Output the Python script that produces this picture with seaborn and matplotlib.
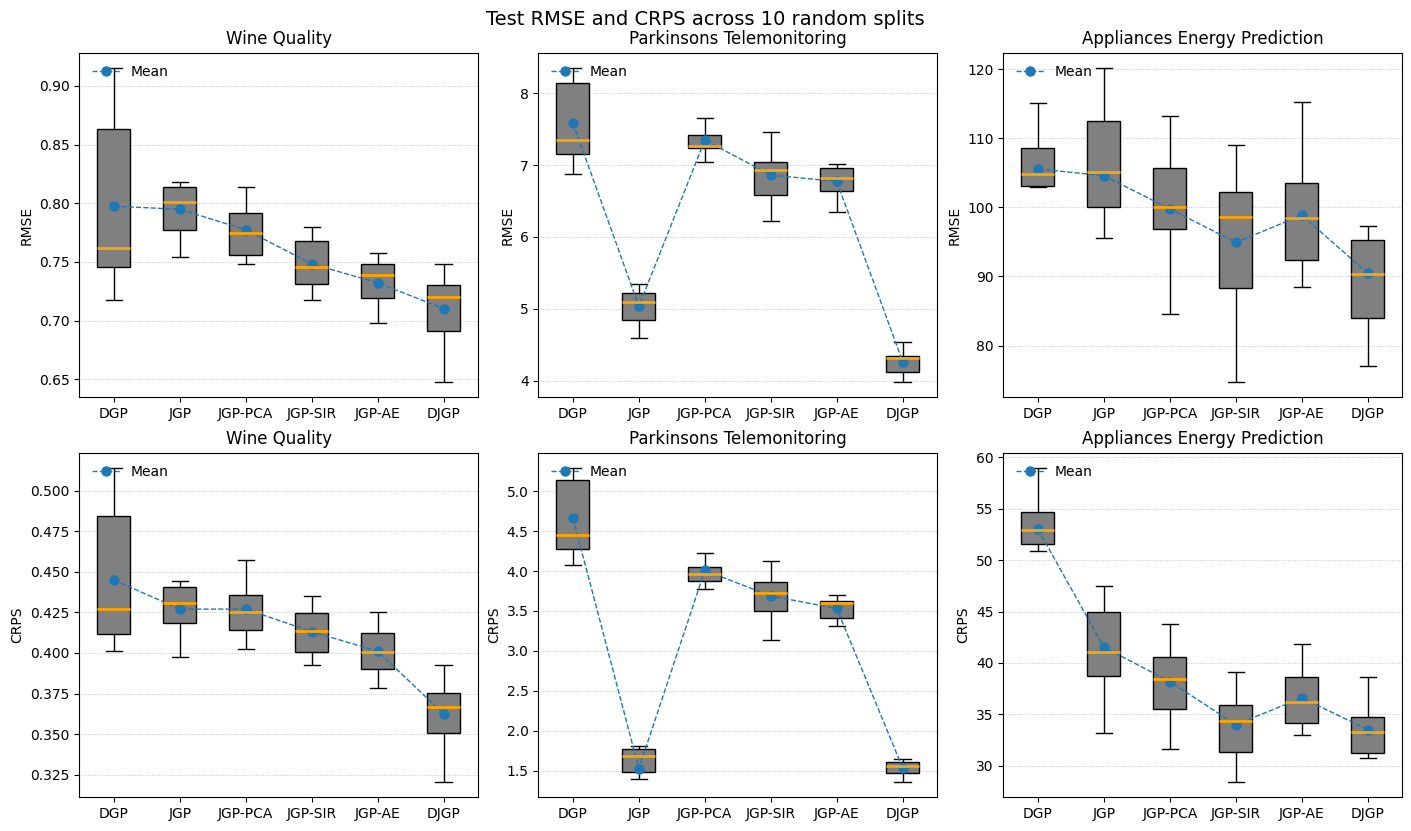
import numpy as np
import pandas as pd
import matplotlib
matplotlib.use("Agg")
import matplotlib.pyplot as plt
import seaborn as sns

methods = ["DGP", "JGP", "JGP-PCA", "JGP-SIR", "JGP-AE", "DJGP"]
datasets = ["Wine Quality", "Parkinsons Telemonitoring", "Appliances Energy Prediction"]

# Resumen de cada caja: bigote inferior, Q1, mediana, Q3, bigote superior
wine_rmse_box = [
    [0.718, 0.746, 0.762, 0.863, 0.915],
    [0.754, 0.777, 0.801, 0.814, 0.818],
    [0.748, 0.756, 0.775, 0.792, 0.814],
    [0.718, 0.731, 0.746, 0.768, 0.780],
    [0.698, 0.719, 0.739, 0.748, 0.758],
    [0.648, 0.691, 0.720, 0.730, 0.748],
]
wine_rmse_mean = [0.7975, 0.7949, 0.7774, 0.7483, 0.7322, 0.7102]

park_rmse_box = [
    [6.879, 7.151, 7.349, 8.148, 8.346],
    [4.595, 4.844, 5.093, 5.213, 5.343],
    [7.045, 7.243, 7.266, 7.414, 7.654],
    [6.215, 6.588, 6.934, 7.040, 7.465],
    [6.353, 6.644, 6.814, 6.957, 7.017],
    [3.986, 4.115, 4.318, 4.346, 4.540],
]
park_rmse_mean = [7.585, 5.033, 7.349, 6.860, 6.773, 4.263]

app_rmse_box = [
    [103.00, 103.15, 104.87, 108.57, 115.10],
    [95.51, 100.12, 105.16, 112.51, 120.14],
    [84.56, 96.81, 100.12, 105.74, 113.23],
    [74.77, 88.31, 98.68, 102.23, 109.05],
    [88.45, 92.34, 98.54, 103.53, 115.25],
    [77.07, 84.03, 90.32, 95.22, 97.24],
]
app_rmse_mean = [105.59, 104.59, 99.78, 94.93, 98.87, 90.47]

wine_crps_box = [
    [0.4015, 0.4119, 0.4272, 0.4845, 0.5137],
    [0.3978, 0.4186, 0.4309, 0.4407, 0.4443],
    [0.4027, 0.4144, 0.4254, 0.4358, 0.4574],
    [0.3929, 0.4003, 0.4137, 0.4248, 0.4352],
    [0.3783, 0.3899, 0.4009, 0.4125, 0.4254],
    [0.3208, 0.3507, 0.3666, 0.3752, 0.3923],
]
wine_crps_mean = [0.4449, 0.4270, 0.4270, 0.4131, 0.4011, 0.3624]

park_crps_box = [
    [4.078, 4.278, 4.452, 5.145, 5.286],
    [1.401, 1.488, 1.679, 1.775, 1.812],
    [3.780, 3.879, 3.966, 4.054, 4.228],
    [3.132, 3.501, 3.730, 3.863, 4.128],
    [3.306, 3.406, 3.605, 3.626, 3.705],
    [1.364, 1.476, 1.563, 1.613, 1.650],
]
park_crps_mean = [4.664, 1.526, 4.008, 3.688, 3.531, 1.534]

app_crps_box = [
    [50.88, 51.56, 52.91, 54.71, 58.94],
    [33.19, 38.70, 41.11, 44.95, 47.50],
    [31.64, 35.51, 38.41, 40.60, 43.82],
    [28.45, 31.29, 34.35, 35.86, 39.08],
    [32.99, 34.15, 36.18, 38.60, 41.82],
    [30.77, 31.19, 33.28, 34.73, 38.60],
]
app_crps_mean = [53.01, 41.53, 38.18, 33.99, 36.60, 33.51]

panels = [
    (wine_rmse_box, wine_rmse_mean, "RMSE"),
    (park_rmse_box, park_rmse_mean, "RMSE"),
    (app_rmse_box, app_rmse_mean, "RMSE"),
    (wine_crps_box, wine_crps_mean, "CRPS"),
    (park_crps_box, park_crps_mean, "CRPS"),
    (app_crps_box, app_crps_mean, "CRPS"),
]

fig = plt.figure(figsize=(14.11, 8.31), dpi=100)
lefts = [0.0562, 0.3815, 0.7111]
bottoms = [0.5219, 0.0406]

for i, (box, means, metric) in enumerate(panels):
    row, col = divmod(i, 3)
    ax = fig.add_axes([lefts[col], bottoms[row], 0.2828, 0.4147])

    # Cinco puntos por método: con percentiles lineales dan exactamente la caja
    df = pd.DataFrame(
        [(m, v) for m, vals in zip(methods, box) for v in vals],
        columns=["method", "value"],
    )
    sns.boxplot(
        data=df, x="method", y="value", order=methods, ax=ax,
        color="gray", saturation=1, width=0.5, whis=(0, 100),
        linecolor="black", linewidth=1, fliersize=0,
        medianprops={"color": "orange", "linewidth": 2},
    )
    # Línea de medias: encima de las cajas, debajo de las medianas
    ax.plot(np.arange(len(methods)), means, color="#1f77b4", marker="o",
            markersize=6.5, linestyle="--", linewidth=1, label="Mean", zorder=2.05)

    ax.set_axisbelow(True)
    ax.yaxis.grid(True, linestyle=":", linewidth=0.6, color="#bbbbbb")
    ax.set_title(datasets[col], fontsize=12)
    ax.set_ylabel(metric)
    ax.set_xlabel("")
    ax.legend(loc="upper left", frameon=False)

fig.suptitle("Test RMSE and CRPS across 10 random splits", fontsize=14, y=0.988)
plt.savefig("out.png", dpi=100)
